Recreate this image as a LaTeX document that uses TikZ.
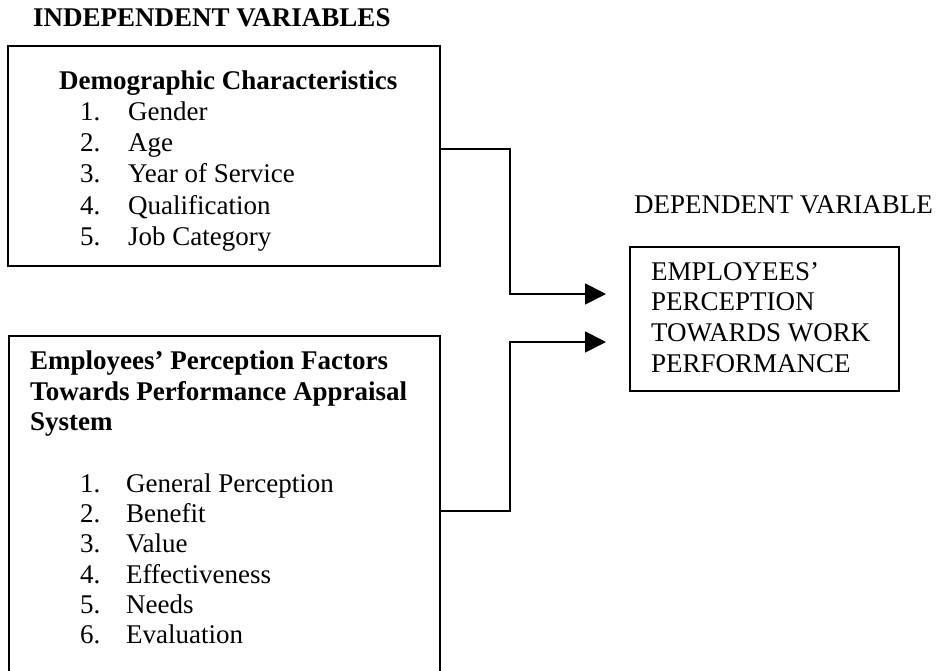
\documentclass[tikz,border=0pt]{standalone}
\usepackage{fontspec}
\setmainfont{Liberation Serif}
\usetikzlibrary{arrows.meta}
\begin{document}
\begin{tikzpicture}[x=1bp,y=-1bp,
  box/.style={draw,line width=1.8bp,rectangle,anchor=north west,inner sep=0pt},
  txt/.style={anchor=base west,inner sep=0pt,font=\fontsize{27bp}{31bp}\selectfont},
  btxt/.style={txt,font=\fontsize{27bp}{31bp}\selectfont\bfseries},
  conn/.style={line width=1.8bp,-{Triangle[length=21bp,width=21bp]}}]
\useasboundingbox[fill=white] (0,0) rectangle (942,671);
\clip (0,0) rectangle (942,671);
% boxes
\node[box,minimum width=432bp,minimum height=220bp] (box1) at (7,45) {};
\node[box,minimum width=431bp,minimum height=345bp] (box2) at (8,335) {};
\node[box,minimum width=269bp,minimum height=144bp] (box3) at (629,246) {};
% titles
\node[btxt] (indep) at (33,27) {INDEPENDENT VARIABLES};
\node[txt] (dep) at (634,213) {DEPENDENT VARIABLE};
% box 1 text
\node[btxt] (demo) at (59,90) {Demographic Characteristics};
\foreach \n/\t/\y [count=\i] in {1./Gender/121,2./Age/152,3./Year of Service/183,4./Qualification/214,5./Job Category/245}{
  \node[txt] (dn\i) at (80,\y) {\n};
  \node[txt] (dt\i) at (128,\y) {\t};
}
% box 2 text
\node[btxt] (ep1) at (30,369) {Employees’ Perception Factors};
\node[btxt] (ep2) at (30,400) {Towards Performance Appraisal};
\node[btxt] (ep3) at (30,430) {System};
\foreach \n/\t/\y [count=\i] in {1./General Perception/492,2./Benefit/522,3./Value/552,4./Effectiveness/583,5./Needs/613,6./Evaluation/643}{
  \node[txt] (en\i) at (80,\y) {\n};
  \node[txt] (et\i) at (126,\y) {\t};
}
% box 3 text
\node[txt] (d1) at (651,280) {EMPLOYEES’};
\node[txt] (d2) at (651,310) {PERCEPTION};
\node[txt] (d3) at (651,341) {TOWARDS WORK};
\node[txt] (d4) at (651,372) {PERFORMANCE};
% connectors
\coordinate (j1) at (510,149);
\coordinate (t1) at (606,294);
\coordinate (j2) at (510,511);
\coordinate (t2) at (606,342);
\draw[conn] (box1.east |- j1) -- (j1) |- (t1);
\draw[conn] (box2.east |- j2) -- (j2) |- (t2);
\end{tikzpicture}
\end{document}
